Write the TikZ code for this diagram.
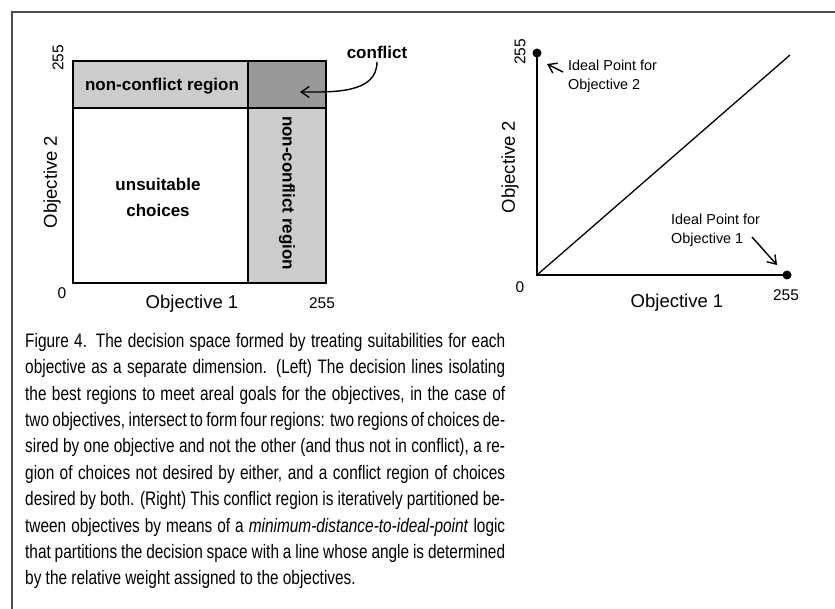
\documentclass[tikz,border=0pt]{standalone}
\usepackage{fontspec}
\setmainfont{Liberation Sans}
\newfontfamily\capfont[FakeStretch=0.79]{Liberation Sans}
\usetikzlibrary{arrows.meta}
\definecolor{lightreg}{gray}{0.80}
\definecolor{darkreg}{gray}{0.60}

\begin{document}
\begin{tikzpicture}[x=1pt,y=-1pt,
    region/.style={font=\fontsize{17}{20}\selectfont\bfseries},
    axislab/.style={font=\fontsize{18.5}{20}\selectfont},
    ticklab/.style={font=\fontsize{15.5}{16}\selectfont},
    note/.style={font=\fontsize{14.4}{19}\selectfont, align=left, inner sep=0},
    dot/.style={circle, fill=black, inner sep=0, minimum size=9pt},
    pointer/.style={-{Straight Barb[length=8pt,width=11pt]}, line width=1.4pt}]
  \useasboundingbox (0,0) rectangle (835,609);
  % frame of the figure
  \draw[line width=1.1pt, black!70] (12,609) -- (12,12) -- (835,12);

  % left: the four regions
  \fill[lightreg] (73,61) rectangle (248,108);
  \fill[lightreg] (248,108) rectangle (326,283);
  \fill[darkreg] (248,61) rectangle (326,108);
  \draw[line width=1.3pt] (73,61) rectangle (326,283);
  \draw[line width=1.3pt] (73,108) -- (326,108);
  \draw[line width=1.3pt] (248,61) -- (248,283);
  \node[region] (topreg) at (162,86) {non-conflict region};
  \node[region, rotate=-90] (sidereg) at (287,193) {non-conflict region};
  \node[region, align=center, font=\fontsize{17}{26}\selectfont\bfseries] (unsuit) at (158,197) {unsuitable\\choices};
  \node[region] (conf) at (377,52) {conflict};
  \coordinate (confpt) at (300,92);
  \draw[pointer] (conf.south) to[out=-90, in=0] (confpt);
  \node[ticklab, rotate=90] (ltop) at (58,58) {255};
  \node[ticklab] (lzero) at (62,293) {0};
  \node[ticklab] (lright) at (322,303) {255};
  \node[axislab] (lxlab) at (192,304) {Objective 1};
  \node[axislab, rotate=90] (lylab) at (52,182) {Objective 2};

  % right: ideal points
  \coordinate (orig) at (537,275);
  \node[dot] (ip2) at (537,53) {};
  \node[dot] (ip1) at (787,275) {};
  \coordinate (diagend) at (790,55);
  \draw[line width=1.6pt] (ip2.center) -- (orig) -- (ip1.center);
  \draw[line width=1.3pt] (orig) -- (diagend);
  \node[ticklab, rotate=90] (rtop) at (520,52) {255};
  \node[ticklab] (rzero) at (520,287) {0};
  \node[ticklab] (rright) at (786,295) {255};
  \node[axislab] (rxlab) at (677,303) {Objective 1};
  \node[axislab, rotate=90] (rylab) at (510,167) {Objective 2};
  \node[note, anchor=west] (ip2lab) at (568,76) {Ideal Point for\\Objective 2};
  \node[note, anchor=west] (ip1lab) at (671,230) {Ideal Point for\\Objective 1};
  \coordinate (ip2tail) at (563,72);
  \coordinate (ip2tip) at (547,64);
  \coordinate (ip1tail) at (752,237);
  \coordinate (ip1tip) at (777,265);
  \draw[pointer] (ip2tail) -- (ip2tip);
  \draw[pointer] (ip1tail) -- (ip1tip);

  % caption
  \node[anchor=north west, inner sep=0, text width=480pt, align=justify,
    font=\capfont\fontsize{19.5}{26.4}\selectfont] (cap) at (25,333) {%
    Figure 4. The decision space formed by treating suitabilities for each\linebreak
    objective as a separate dimension. (Left) The decision lines isolating\linebreak
    the best regions to meet areal goals for the objectives, in the case of\linebreak
    two objectives, intersect to form four regions: two regions of choices de-\linebreak
    sired by one objective and not the other (and thus not in conflict), a re-\linebreak
    gion of choices not desired by either, and a conflict region of choices\linebreak
    desired by both. (Right) This conflict region is iteratively partitioned be-\linebreak
    tween objectives by means of a \textit{minimum-distance-to-ideal-point} logic\linebreak
    that partitions the decision space with a line whose angle is determined\linebreak
    by the relative weight assigned to the objectives.};
\end{tikzpicture}
\end{document}
